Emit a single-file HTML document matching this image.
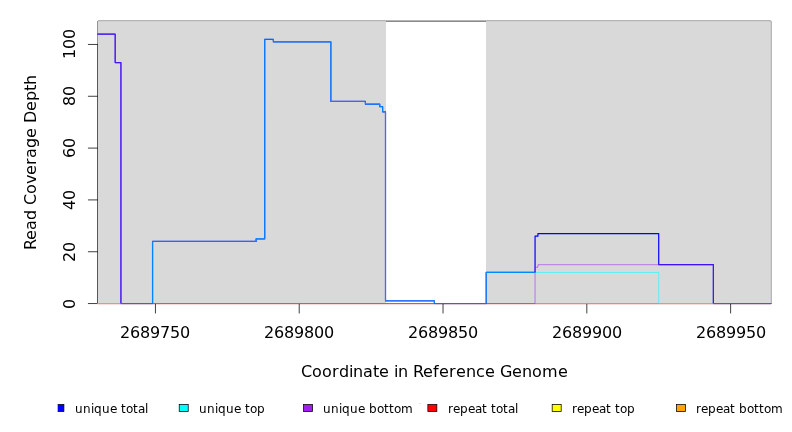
<!DOCTYPE html>
<html lang="en">
<head>
<meta charset="utf-8">
<title>Read coverage plot</title>
<style>
html,body{margin:0;padding:0;background:#fff;}
body{width:792px;height:432px;overflow:hidden;}
svg{display:block;}
text{font-family:"DejaVu Sans","Liberation Sans",sans-serif;fill:#000;}
.ax{font-size:16px;}
.lg{font-size:12px;}
</style>
</head>
<body>
<svg width="792" height="432" viewBox="0 0 792 432">
<rect x="0" y="0" width="792" height="432" fill="#ffffff"/>
<path d="M97.92 21.12H770.88V303.56H97.92Z" fill="none" stroke="#000" stroke-width="0.75"/>
<path d="M97.92 303.56V44.46M97.92 303.56H88.32M97.92 251.74H88.32M97.92 199.92H88.32M97.92 148.10H88.32M97.92 96.28H88.32M97.92 44.46H88.32M155.44 303.56H730.62" fill="none" stroke="#000" stroke-width="0.75" stroke-linecap="round"/>
<rect x="97.92" y="21.12" width="288.08" height="282.44" fill="#d9d9d9"/>
<rect x="486.00" y="21.12" width="284.88" height="282.44" fill="#d9d9d9"/>
<g fill="none" stroke-linejoin="round" stroke-linecap="round">
<path d="M97.92 303.56H770.88" stroke="#ff0000" stroke-width="1.2"/>
<path d="M97.92 303.56H770.88" stroke="#ffff00" stroke-width="0.55"/>
<path d="M97.92 303.56H770.88" stroke="#ffa500" stroke-width="0.55"/>
<path d="M97.92 34.10H115.18V62.60H120.93V303.56H152.56V241.38H256.09V238.78H264.72V39.28H273.35V41.87H330.87V101.46H365.38V104.05H379.76V106.64H382.63V111.83H385.51V300.97H434.40V303.56H486.17V272.47H535.06V236.19H537.93V233.60H658.72V264.69H713.36V303.56H770.88" stroke="#0000ff" stroke-width="1.2"/>
<path d="M97.92 303.56H152.56V241.38H256.09V238.78H264.72V39.28H273.35V41.87H330.87V101.46H365.38V104.05H379.76V106.64H382.63V111.83H385.51V300.97H434.40V303.56H486.17V272.47H658.72V303.56H770.88" stroke="#00ffff" stroke-width="0.55"/>
<path d="M97.92 34.10H115.18V62.60H120.93V303.56H535.06V267.29H537.93V264.69H713.36V303.56H770.88" stroke="#a020f0" stroke-width="0.55"/>
</g>
<rect x="97" y="304" width="675" height="1" fill="#fff" opacity="0.55"/>
<path d="M155.44 303.9V313.46M299.23 303.9V313.46M443.03 303.9V313.46M586.82 303.9V313.46M730.62 303.9V313.46" fill="none" stroke="#000" stroke-width="0.75"/>
<text class="ax" x="120.00 130.00 140.00 150.00 160.00 170.00 180.00" y="338">2689750</text>
<text class="ax" x="264.00 274.00 284.00 294.00 304.00 314.00 324.00" y="338">2689800</text>
<text class="ax" x="408.00 418.00 428.00 438.00 448.00 458.00 468.00" y="338">2689850</text>
<text class="ax" x="552.00 562.00 572.00 582.00 592.00 602.00 612.00" y="338">2689900</text>
<text class="ax" x="696.00 706.00 716.00 726.00 736.00 746.00 756.00" y="338">2689950</text>
<text class="ax" transform="translate(74.7 309.00) rotate(-90)" x="0.00" y="0">0</text>
<text class="ax" transform="translate(74.7 262.00) rotate(-90)" x="0.00 10.00" y="0">20</text>
<text class="ax" transform="translate(74.7 210.00) rotate(-90)" x="0.00 10.00" y="0">40</text>
<text class="ax" transform="translate(74.7 158.00) rotate(-90)" x="0.00 10.00" y="0">60</text>
<text class="ax" transform="translate(74.7 106.00) rotate(-90)" x="0.00 10.00" y="0">80</text>
<text class="ax" transform="translate(74.7 59.00) rotate(-90)" x="0.00 10.00 20.00" y="0">100</text>
<text class="ax" x="301.00 312.00 322.00 332.00 339.00 349.00 353.00 363.00 373.00 379.00 389.00 394.00 398.00 408.00 413.00 423.00 433.00 439.00 449.00 456.00 466.00 476.00 485.00 495.00 500.00 512.00 522.00 532.00 542.00 558.00" y="377">Coordinate in Reference Genome</text>
<text class="ax" transform="translate(36.0 250.00) rotate(-90)" x="0.00 10.00 20.00 30.00 40.00 45.00 56.00 66.00 75.00 85.00 92.00 102.00 112.00 122.00 127.00 139.00 149.00 159.00 165.00" y="0">Read Coverage Depth</text>
<clipPath id="lc"><rect x="57.7" y="390" width="740" height="42"/></clipPath>
<g clip-path="url(#lc)">
<rect x="54.90" y="404.5" width="9" height="7" fill="#0000ff" stroke="#000" stroke-width="0.75"/>
<text class="lg" x="75.00 83.00 91.00 94.00 102.00 110.00 117.00 121.00 126.00 133.00 138.00 145.00" y="412.9">unique total</text>
<rect x="179.22" y="404.5" width="9" height="7" fill="#00ffff" stroke="#000" stroke-width="0.75"/>
<text class="lg" x="199.00 207.00 215.00 218.00 226.00 234.00 241.00 245.00 250.00 257.00" y="412.9">unique top</text>
<rect x="303.54" y="404.5" width="9" height="7" fill="#a020f0" stroke="#000" stroke-width="0.75"/>
<text class="lg" x="323.00 331.00 339.00 342.00 350.00 358.00 365.00 369.00 377.00 384.00 389.00 394.00 401.00" y="412.9">unique bottom</text>
<rect x="427.86" y="404.5" width="9" height="7" fill="#ff0000" stroke="#000" stroke-width="0.75"/>
<text class="lg" x="448.00 453.00 460.00 468.00 475.00 482.00 487.00 491.00 496.00 503.00 508.00 515.00" y="412.9">repeat total</text>
<rect x="552.18" y="404.5" width="9" height="7" fill="#ffff00" stroke="#000" stroke-width="0.75"/>
<text class="lg" x="572.00 577.00 584.00 592.00 599.00 606.00 611.00 615.00 620.00 627.00" y="412.9">repeat top</text>
<rect x="676.50" y="404.5" width="9" height="7" fill="#ffa500" stroke="#000" stroke-width="0.75"/>
<text class="lg" x="696.00 701.00 708.00 716.00 723.00 730.00 735.00 739.00 747.00 754.00 759.00 764.00 771.00" y="412.9">repeat bottom</text>
</g>
<rect x="419" y="403" width="2" height="1" fill="#e4e4e4"/>
</svg>
</body>
</html>
